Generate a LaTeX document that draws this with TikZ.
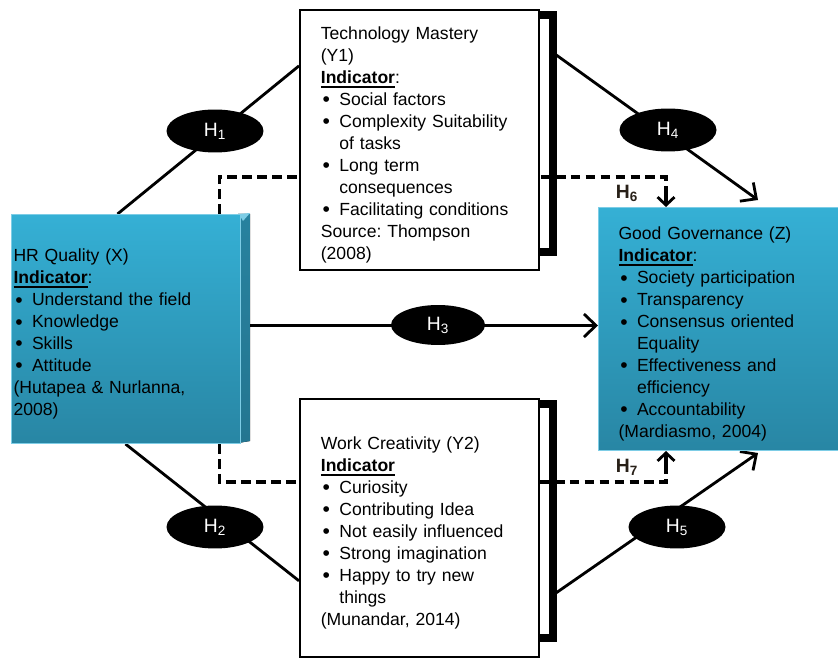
\documentclass[tikz,border=0pt]{standalone}
\usepackage{fontspec}
\setmainfont{Liberation Sans}
\usepackage{xcolor}
\usetikzlibrary{arrows.meta, positioning, calc, shapes.geometric, backgrounds}

\definecolor{tealtop}{RGB}{53,176,213}
\definecolor{tealbot}{RGB}{40,134,164}
\definecolor{tealedge}{RGB}{125,205,230}
\definecolor{tealside}{RGB}{36,118,145}
\definecolor{hlabcol}{RGB}{40,32,24}

% bold underlined heading, bullet line, continuation line
\newcommand{\indic}[1]{\leavevmode\setbox0\hbox{\bfseries #1}\rlap{\vrule width\wd0 height -1.5pt depth 2.5pt}\box0}
\newcommand{\bitem}[1]{\makebox[0.37cm][l]{\hspace{1pt}\raisebox{-0.8pt}{\fontsize{12}{12}\selectfont\textbullet}}#1}
\newcommand{\bcont}{\hspace*{0.37cm}}
\newcommand{\topgap}{\rule{0pt}{13pt}}

\begin{document}
\begin{tikzpicture}[
    x=0.02cm, y=-0.02cm,
    every node/.style={font=\fontsize{10}{12.5}\selectfont},
    varbox/.style={anchor=north west, align=left, inner ysep=0pt},
    bluebox/.style={varbox, top color=tealtop, bottom color=tealbot, draw=tealedge, line width=0.6pt, inner xsep=0.04cm},
    whitebox/.style={varbox, fill=white, draw=black, line width=1pt, text width=3.94cm, inner xsep=0.42cm},
    hyp/.style={ellipse, fill=black, text=white, minimum width=1.94cm, minimum height=0.86cm, inner sep=0pt, font=\fontsize{11}{13}\selectfont},
    hlab/.style={font=\fontsize{11}{13}\selectfont\bfseries, text=hlabcol},
    conn/.style={line width=1.6pt},
    arrow/.style={conn, -{Straight Barb[length=2.4mm, width=4.6mm, line width=1.6pt]}},
    dashline/.style={line width=2.1pt, dash pattern=on 5.5pt off 3pt},
    dashtip/.style={line width=2.1pt, -{Straight Barb[length=1.6mm, width=3.4mm, line width=1.6pt]}}
]
    \useasboundingbox (0,0) rectangle (838,658);

    % backing frames of the two mediators
    \draw[line width=4pt] (304,15) rectangle (553,252);
    \draw[line width=4pt] (304,404) rectangle (553,638);
    \fill[top color=tealside!80!tealtop, bottom color=tealside] (238,214) -- (250,214) -- (250,441) -- (238,443) -- cycle;
    \fill[tealedge] (239,214) -- (250,213) -- (243,221) -- cycle;

    \node[bluebox, text width=4.5cm, minimum height=4.58cm] (hr) at (11,214) {\topgap HR Quality (X)\\
        \indic{Indicator}:\\
        \bitem{Understand the field}\\
        \bitem{Knowledge}\\
        \bitem{Skills}\\
        \bitem{Attitude}\\
        (Hutapea \& Nurlanna,\\
        2008)};

    \node[whitebox, minimum height=5.2cm] (tm) at (299,9) {\topgap Technology Mastery\\
        (Y1)\\
        \indic{Indicator}:\\
        \bitem{Social factors}\\
        \bitem{Complexity Suitability}\\
        \bcont of tasks\\
        \bitem{Long term}\\
        \bcont consequences\\
        \bitem{Facilitating conditions}\\
        Source:\ Thompson\\
        (2008)};

    \node[whitebox, minimum height=5.16cm] (wc) at (299,398) {\topgap Work Creativity (Y2)\\
        \indic{Indicator}\\
        \bitem{Curiosity}\\
        \bitem{Contributing Idea}\\
        \bitem{Not easily influenced}\\
        \bitem{Strong imagination}\\
        \bitem{Happy to try new}\\
        \bcont things\\
        (Munandar, 2014)};

    \node[bluebox, text width=4.1cm, inner xsep=0.4cm, minimum height=4.86cm] (gg) at (598,207) {\topgap Good Governance (Z)\\
        \indic{Indicator}:\\
        \bitem{Society participation}\\
        \bitem{Transparency}\\
        \bitem{Consensus oriented}\\
        \bcont Equality\\
        \bitem{Effectiveness and}\\
        \bcont efficiency\\
        \bitem{Accountability}\\
        (Mardiasmo, 2004)};

    % hypotheses
    \node[hyp] (h1) at (215,131) {H\textsubscript{1}};
    \node[hyp] (h2) at (215,527) {H\textsubscript{2}};
    \node[hyp, minimum width=1.88cm, minimum height=0.8cm] (h3) at (438,325) {H\textsubscript{3}};
    \node[hyp] (h4) at (668,130) {H\textsubscript{4}};
    \node[hyp] (h5) at (677,527) {H\textsubscript{5}};
    \node[hlab] (l6) at (627,193) {H\textsubscript{6}};
    \node[hlab] (l7) at (627,467) {H\textsubscript{7}};

    \begin{pgfonlayer}{background}
        \draw[conn] ([xshift=-0.17cm]hr.north) -- ([yshift=1.48cm]tm.west);
        \draw[conn] ([xshift=-0.01cm]hr.south) -- ([yshift=-1.06cm]wc.west);
        \draw[arrow] ([yshift=0.07cm]hr.east) -- ([yshift=0.07cm]gg.west);
        \draw[arrow] ([xshift=0.3cm, yshift=1.72cm]tm.east) -- ([xshift=0.74cm, yshift=0.14cm]gg.north);
        \draw[arrow] ([xshift=0.3cm, yshift=-1.32cm]wc.east) -- ([xshift=0.74cm, yshift=-0.04cm]gg.south);
        \draw[dashline] ([xshift=1.87cm]hr.north) |- ([xshift=-1.1cm, yshift=0.6cm]gg.north) -- ([xshift=-1.1cm, yshift=0.3cm]gg.north);
        \draw[dashtip] ([xshift=-1.1cm, yshift=0.3cm]gg.north) -- ([xshift=-1.1cm]gg.north);
        \draw[dashline] ([xshift=1.87cm]hr.south) |- ([xshift=-1.1cm, yshift=-0.62cm]gg.south) -- ([xshift=-1.1cm, yshift=-0.3cm]gg.south);
        \draw[dashtip] ([xshift=-1.1cm, yshift=-0.3cm]gg.south) -- ([xshift=-1.1cm]gg.south);
    \end{pgfonlayer}
\end{tikzpicture}
\end{document}
